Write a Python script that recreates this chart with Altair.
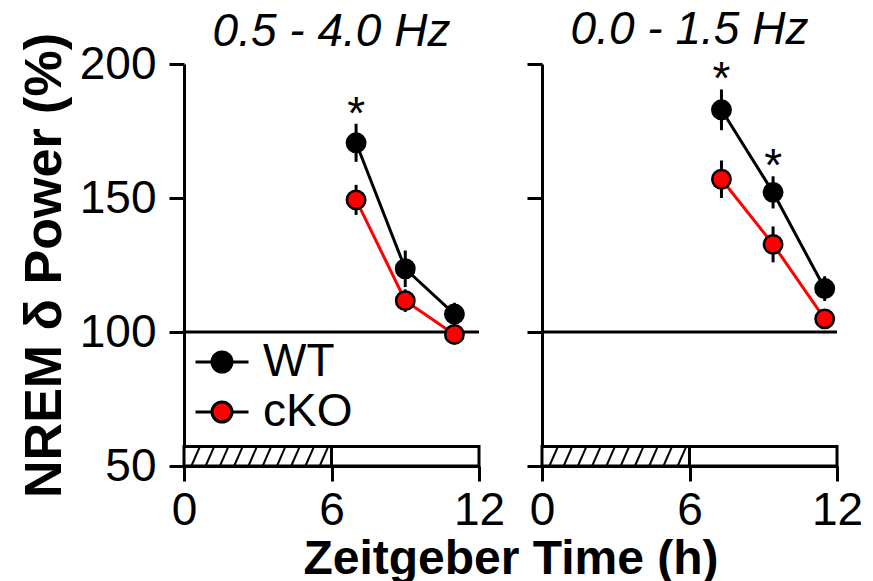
import altair as alt
import pandas as pd

# ---------------- data ----------------
groups = ["WT", "cKO"]
group_colors = ["#000000", "#ff0000"]

hours_left = [7.0, 9.0, 11.0]
wt_left = [170.6, 123.6, 106.7]
wt_left_sem = [7.1, 6.8, 4.2]
cko_left = [149.3, 111.7, 99.1]
cko_left_sem = [5.6, 4.2, 2.0]
star_hours_left = [7.0]

hours_right = [7.3, 9.4, 11.5]
wt_right = [182.9, 152.1, 116.2]
wt_right_sem = [7.6, 6.0, 4.6]
cko_right = [157.0, 132.7, 104.9]
cko_right_sem = [7.0, 6.7, 3.5]
star_hours_right = [7.3, 9.4]

panel_titles = ["0.5 - 4.0 Hz", "0.0 - 1.5 Hz"]
x_ticks = [0, 6, 12]
y_ticks = [50, 100, 150, 200]
baseline_level = [100]

# light/dark bar (ZT 0-6 hatched, ZT 6-12 open)
bar_start = [0, 6]
bar_end = [6, 12]
bar_bottom = 50
bar_top = 57.3
hatch_bottom_x = [0.30, 0.88, 1.46, 2.04, 2.62, 3.20, 3.78, 4.36, 4.94, 5.52]
hatch_top_x = [0.65, 1.23, 1.81, 2.39, 2.97, 3.55, 4.13, 4.71, 5.29, 5.87]

FONT = "Liberation Sans"
# legend key: short black line with a circle in the middle (circle radius = 1 unit)
LEGEND_KEY = "M-2.65,0H-1M1,0H2.65M1,0A1,1,0,1,1,-1,0A1,1,0,1,1,1,0Z"


def panel(hours, wt, wt_sem, cko, cko_sem, star_hours, title, left, title_offset):
    rows = []
    for g, vals, sems in (("WT", wt, wt_sem), ("cKO", cko, cko_sem)):
        for h, v, s in zip(hours, vals, sems):
            rows.append({"h": h, "v": v, "lo": v - s, "hi": v + s, "g": g})
    df = pd.DataFrame(rows)
    stars = df[(df.g == "WT") & (df.h.isin(star_hours))][["h", "hi"]]

    xs = alt.Scale(domain=[0, 12], nice=False, zero=False)
    ys = alt.Scale(domain=[50, 200], nice=False, zero=False)
    if left:
        xaxis = alt.Axis(values=x_ticks, title="Zeitgeber Time (h)", titleX=326.5, titleY=107,
                         titleAlign="center", titleBaseline="alphabetic", titleFontSize=48,
                         titleFontWeight="bold", titleFont=FONT, labelFlush=False, labelPadding=7)
        yaxis = alt.Axis(values=y_ticks, title="NREM δ Power (%)", titleFontSize=52,
                         titleFontWeight="bold", titleFont=FONT, titlePadding=8, labelPadding=13)
    else:
        xaxis = alt.Axis(values=x_ticks, title=None, labelFlush=False, labelPadding=7)
        yaxis = alt.Axis(values=y_ticks, title=None, labels=False)

    def X(f):
        return alt.X(f, type="quantitative", scale=xs, axis=xaxis)

    def Y(f):
        return alt.Y(f, type="quantitative", scale=ys, axis=yaxis)

    ref = alt.Chart(pd.DataFrame({"y": baseline_level, "x0": [0], "x1": [12]})).mark_rule(
        color="black", strokeWidth=3).encode(x=X("x0"), x2="x1", y=Y("y"))

    bars = alt.Chart(pd.DataFrame({"a": bar_start, "b": bar_end,
                                   "y0": [bar_bottom] * 2, "y1": [bar_top] * 2})).mark_rect(
        fill="white", stroke="black", strokeWidth=3).encode(x=X("a"), x2="b", y=Y("y0"), y2="y1")

    hatch = alt.Chart(pd.DataFrame({"xa": hatch_bottom_x, "xb": hatch_top_x,
                                    "ya": [bar_bottom] * len(hatch_bottom_x),
                                    "yb": [bar_top] * len(hatch_top_x)})).mark_rule(
        color="black", strokeWidth=2).encode(x=X("xa"), x2="xb", y=Y("ya"), y2="yb")

    err = alt.Chart(df).mark_rule(color="black", strokeWidth=3).encode(
        x=X("h"), y=Y("lo"), y2="hi")

    # one line layer per group, coloured directly (keeps the fill legend un-merged)
    line_layers = [
        alt.Chart(df).transform_filter(alt.datum.g == g).mark_line(strokeWidth=3, color=c)
        .encode(x=X("h"), y=Y("v"), order="h:Q")
        for g, c in zip(groups, group_colors)
    ]

    cscale = alt.Scale(domain=groups, range=group_colors)
    if left:
        leg = alt.Legend(
            title=None, orient="none", legendX=15, legendY=275, padding=0,
            symbolType=LEGEND_KEY, symbolSize=400, symbolStrokeColor="black",
            symbolStrokeWidth=3, symbolOpacity=1, labelFontSize=46, labelFont=FONT,
            labelColor="black", labelOffset=18, rowPadding=4)
    else:
        leg = None
    pts = alt.Chart(df).mark_point(filled=True, size=340, stroke="black", strokeWidth=2.5,
                                   opacity=1, shape="circle").encode(
        x=X("h"), y=Y("v"), fill=alt.Fill("g:N", scale=cscale, legend=leg))

    star = alt.Chart(stars).mark_text(text="*", fontSize=46, font=FONT, baseline="alphabetic",
                                      dy=5, color="black").encode(x=X("h"), y=Y("hi"))

    return alt.layer(ref, bars, hatch, err, *line_layers, pts, star).properties(
        width=295, height=402,
        title=alt.TitleParams(title, fontSize=46, font=FONT, fontStyle="italic",
                              fontWeight="normal", anchor="middle", baseline="alphabetic",
                              frame="group", offset=title_offset, color="black"))


left = panel(hours_left, wt_left, wt_left_sem, cko_left, cko_left_sem, star_hours_left,
             panel_titles[0], True, -59)
right = panel(hours_right, wt_right, wt_right_sem, cko_right, cko_right_sem, star_hours_right,
              panel_titles[1], False, -33)

chart = alt.hconcat(left, right, spacing=63, bounds="flush").resolve_scale(
    fill="independent").resolve_legend(fill="independent").properties(
    padding={"left": 18, "top": 7, "right": 0, "bottom": 0}).configure_axis(
    domainColor="black", domainWidth=3, tickColor="black", tickWidth=3, tickSize=15,
    labelFontSize=46, labelFont=FONT, labelColor="black", grid=False, titleColor="black"
).configure_view(stroke=None)

chart.save("out.html", embed_options={"renderer": "svg", "actions": False})
